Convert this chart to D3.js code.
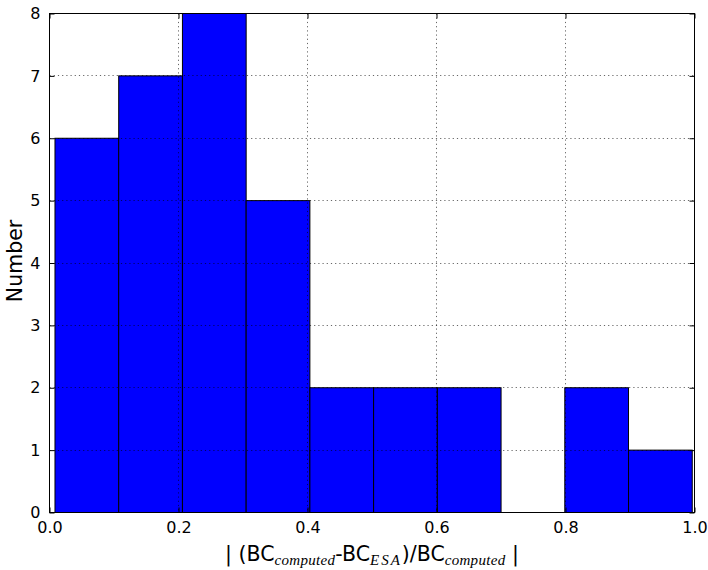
<!DOCTYPE html>
<html lang="en">
<head>
    <title>Histogram</title>
    <script src="https://d3js.org/d3.v7.min.js"></script>
    <style>
        body { margin: 0; background: #fff; }
        svg text { font-family: "DejaVu Sans", sans-serif; fill: #000; }
    </style>
</head>
<body>
    <svg id="chart"></svg>

    <script>
        var width = 708;
        var height = 570;

        var binEdges = [0.0085, 0.1073, 0.2061, 0.3049, 0.4037, 0.5025, 0.6013, 0.7001, 0.7989, 0.8977, 0.9965];
        var counts = [6, 7, 8, 5, 2, 2, 2, 0, 2, 1];
        var xTicks = [0.0, 0.2, 0.4, 0.6, 0.8, 1.0];
        var yTicks = [0, 1, 2, 3, 4, 5, 6, 7, 8];

        var plotLeft = 49.5, plotRight = 694.5, plotTop = 13.5, plotBottom = 512.5;

        var xscale = d3.scaleLinear().domain([0, 1]).range([plotLeft, plotRight]);
        var yscale = d3.scaleLinear().domain([0, 8]).range([plotBottom, plotTop]);

        var bins = counts.map(function (c, i) {
            return { x0: binEdges[i], x1: binEdges[i + 1], n: c };
        });

        var svg = d3.select("#chart")
            .attr("width", width)
            .attr("height", height);

        // bars
        svg.append("g").selectAll("rect")
            .data(bins.filter(function (d) { return d.n > 0; }))
            .enter()
            .append("rect")
            .attr("x", function (d) { return xscale(d.x0); })
            .attr("y", function (d) { return yscale(d.n); })
            .attr("width", function (d) { return xscale(d.x1) - xscale(d.x0); })
            .attr("height", function (d) { return yscale(0) - yscale(d.n); })
            .attr("fill", "#0000ff")
            .attr("stroke", "#000")
            .attr("stroke-width", 1);

        // dotted grid on top of the bars
        var grid = svg.append("g")
            .attr("stroke", "#000")
            .attr("stroke-width", 0.6)
            .attr("stroke-dasharray", "1.2,3");
        grid.selectAll(".gx")
            .data(xTicks.slice(1, -1))
            .enter().append("line")
            .attr("x1", function (d) { return Math.round(xscale(d) - 0.5) + 0.5; })
            .attr("x2", function (d) { return Math.round(xscale(d) - 0.5) + 0.5; })
            .attr("y1", plotTop).attr("y2", plotBottom);
        grid.selectAll(".gy")
            .data(yTicks.slice(1, -1))
            .enter().append("line")
            .attr("y1", function (d) { return Math.round(yscale(d) - 0.5) + 0.5; })
            .attr("y2", function (d) { return Math.round(yscale(d) - 0.5) + 0.5; })
            .attr("x1", plotLeft).attr("x2", plotRight);

        // axes with inward ticks, mirrored on top and right
        var tickLen = 5;
        var xb = d3.axisBottom(xscale).tickValues(xTicks).tickSizeInner(-tickLen).tickSizeOuter(0)
            .tickPadding(9).tickFormat(d3.format(".1f"));
        var xt = d3.axisTop(xscale).tickValues(xTicks).tickSizeInner(-tickLen).tickSizeOuter(0).tickFormat("");
        var yl = d3.axisLeft(yscale).tickValues(yTicks).tickSizeInner(-tickLen).tickSizeOuter(0)
            .tickPadding(9).tickFormat(d3.format("d"));
        var yr = d3.axisRight(yscale).tickValues(yTicks).tickSizeInner(-tickLen).tickSizeOuter(0).tickFormat("");

        function style(g) {
            g.select(".domain").remove();
            g.selectAll(".tick line").attr("stroke", "#000");
            g.selectAll(".tick text").attr("font-size", 16).attr("font-family", "DejaVu Sans");
        }
        svg.append("g").attr("transform", "translate(0," + plotBottom + ")").call(xb).call(style);
        svg.append("g").attr("transform", "translate(0," + plotTop + ")").call(xt).call(style);
        svg.append("g").attr("transform", "translate(" + plotLeft + ",0)").call(yl).call(style);
        svg.append("g").attr("transform", "translate(" + plotRight + ",0)").call(yr).call(style);

        // frame
        svg.append("rect")
            .attr("x", plotLeft).attr("y", plotTop)
            .attr("width", plotRight - plotLeft).attr("height", plotBottom - plotTop)
            .attr("fill", "none").attr("stroke", "#000").attr("stroke-width", 1);

        // axis labels
        svg.append("text")
            .attr("transform", "translate(22," + 261 + ") rotate(-90)")
            .attr("text-anchor", "middle")
            .attr("font-size", 20.5)
            .text("Number");

        var labelParts = [
            { t: "| (BC", sub: false },
            { t: "computed", sub: true },
            { t: "-BC", sub: false },
            { t: "ESA", sub: true },
            { t: ")/BC", sub: false },
            { t: "computed", sub: true },
            { t: " |", sub: false }
        ];
        var shift = 4;
        var xl = svg.append("text")
            .attr("x", (plotLeft + plotRight) / 2)
            .attr("y", 561)
            .attr("text-anchor", "middle")
            .attr("font-size", 20.5);
        labelParts.forEach(function (p, i) {
            var prevSub = i > 0 && labelParts[i - 1].sub;
            var ts = xl.append("tspan")
                .attr("dy", p.sub ? shift : (prevSub ? -shift : 0))
                .text(p.t);
            if (p.sub) {
                ts.attr("font-family", "Liberation Serif, serif")
                    .attr("font-style", "italic")
                    .attr("font-size", 15)
                    .attr("letter-spacing", p.t === "ESA" ? 2 : 0.3);
            }
        });
    </script>
</body>
</html>
